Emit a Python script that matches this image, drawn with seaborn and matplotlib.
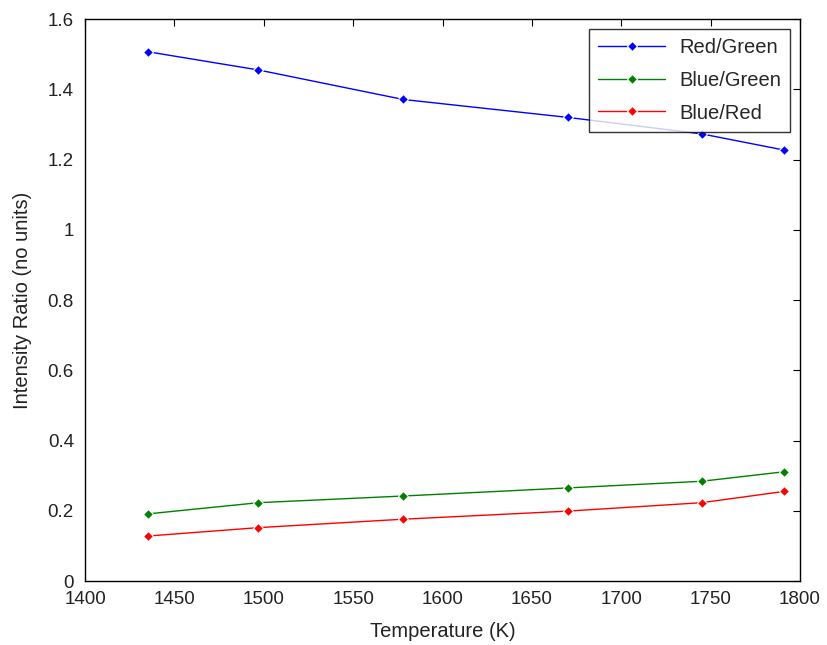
import matplotlib
matplotlib.use("Agg")
import matplotlib.pyplot as plt
import seaborn as sns
import pandas as pd
from matplotlib.ticker import FuncFormatter, MultipleLocator

temperature = [1435, 1497, 1578, 1670, 1745, 1791]
red_green = [1.507, 1.455, 1.371, 1.320, 1.273, 1.227]
blue_green = [0.191, 0.223, 0.242, 0.265, 0.284, 0.311]
blue_red = [0.128, 0.152, 0.176, 0.199, 0.223, 0.255]
series_names = ["Red/Green", "Blue/Green", "Blue/Red"]
series_colors = ["#0000ff", "#008000", "#ff0000"]

sns.set_style("white")
plt.rcParams["font.family"] = ["Liberation Sans", "DejaVu Sans"]

rows = []
for name, vals in zip(series_names, [red_green, blue_green, blue_red]):
    for t, v in zip(temperature, vals):
        rows.append({"Temperature": t, "Ratio": v, "Series": name})
df = pd.DataFrame(rows)

fig = plt.figure(figsize=(8.27, 6.45), dpi=100)
ax = fig.add_axes([0.1028, 0.0992, 0.8646, 0.8713])

sns.lineplot(data=df, x="Temperature", y="Ratio", hue="Series",
             hue_order=series_names, palette=series_colors,
             marker="D", markersize=5, markeredgewidth=0.8, linewidth=1.0,
             ax=ax, legend=True)

ax.set_xlim(1400, 1800)
ax.set_ylim(0, 1.6)
ax.xaxis.set_major_locator(MultipleLocator(50))
ax.yaxis.set_major_locator(MultipleLocator(0.2))
ax.yaxis.set_major_formatter(FuncFormatter(lambda v, p: f"{v:g}"))
ax.tick_params(direction="in", length=5, width=0.8, top=True, right=True,
               labelsize=13.5, colors="black", labelcolor="#222222")
ax.tick_params(axis="x", pad=7)
ax.tick_params(axis="y", pad=8)
for s in ax.spines.values():
    s.set_color("black")
    s.set_linewidth(1.0)

ax.set_xlabel("Temperature (K)", fontsize=14.5, labelpad=10, color="#222222")
ax.set_ylabel("Intensity Ratio (no units)", fontsize=14.5, labelpad=11, color="#222222")

handles, labels = ax.get_legend_handles_labels()
leg = ax.legend(handles, labels, loc="upper right", fontsize=14.5,
                frameon=True, fancybox=False, edgecolor="black",
                borderaxespad=0.5, handlelength=3.3, handletextpad=0.7,
                labelspacing=0.68, borderpad=0.45)
leg.get_frame().set_linewidth(1.0)

fig.savefig("out.png", dpi=100)
